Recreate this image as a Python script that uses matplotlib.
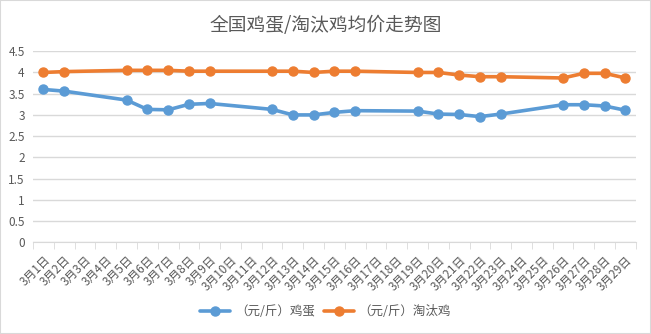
import numpy as np
import matplotlib.pyplot as plt
from matplotlib.patches import Rectangle

plt.rcParams['font.family'] = ['Noto Sans CJK SC', 'DejaVu Sans']

title = "全国鸡蛋/淘汰鸡均价走势图"
days = [f"3月{d}日" for d in range(1, 30)]
# None = no quote that day (weekend)
egg = [3.60, 3.56, None, None, 3.35, 3.13, 3.12, 3.25, 3.27, None, None,
       3.13, 3.00, 3.00, 3.06, 3.10, None, None, 3.09, 3.02, 3.01, 2.96,
       3.02, None, None, 3.24, 3.24, 3.21, 3.11]
hen = [4.00, 4.02, None, None, 4.05, 4.05, 4.05, 4.03, 4.03, None, None,
       4.03, 4.03, 4.00, 4.03, 4.03, None, None, 4.00, 4.00, 3.94, 3.90,
       3.90, None, None, 3.87, 3.98, 3.98, 3.87]
labels = ["（元/斤）鸡蛋", "（元/斤）淘汰鸡"]
colors = ["#5B9BD5", "#ED7D31"]

fig = plt.figure(figsize=(6.51, 3.34), dpi=100)
ax = fig.add_axes([0.0507, 0.2746, 0.926, 0.572])

x = np.arange(len(days))
for vals, lab, col in zip([egg, hen], labels, colors):
    v = np.array([np.nan if a is None else a for a in vals])
    m = ~np.isnan(v)
    ax.plot(x[m], v[m], color=col, lw=2.6, marker='o', ms=6.5,
            label=lab, solid_capstyle='round')

ax.set_xlim(-0.5, len(days) - 0.5)
ax.set_ylim(0, 4.5)
ax.set_yticks(np.arange(0, 4.51, 0.5))
ax.set_yticklabels(["0", "0.5", "1", "1.5", "2", "2.5", "3", "3.5", "4", "4.5"])
ax.grid(axis='y', color='#D9D9D9', lw=1)
ax.set_axisbelow(True)
for s in ['left', 'right', 'top']:
    ax.spines[s].set_visible(False)
ax.spines['bottom'].set_color('#D9D9D9')
ax.tick_params(axis='y', length=0, labelsize=8.5, labelcolor='#595959', pad=6)

ax.set_xticks(x)
ax.set_xticklabels(days, rotation=45, ha='right', rotation_mode='anchor')
ax.tick_params(axis='x', which='major', length=0, labelsize=8.5,
               labelcolor='#595959', pad=8)
ax.set_xticks(np.arange(-0.5, len(days)), minor=True)
ax.tick_params(axis='x', which='minor', length=5, color='#D9D9D9')

fig.suptitle(title, y=0.955, fontsize=13.5, color='#595959')
fig.legend(loc='center', bbox_to_anchor=(0.5, 0.066), ncol=2, frameon=False,
           fontsize=9, labelcolor='#595959', handlelength=2.4,
           columnspacing=0.7, handletextpad=0.4)

fig.add_artist(Rectangle((0, 0), 1, 1, transform=fig.transFigure,
                         fill=False, ec='#D9D9D9', lw=1.5))

fig.savefig("out.png", dpi=100)
